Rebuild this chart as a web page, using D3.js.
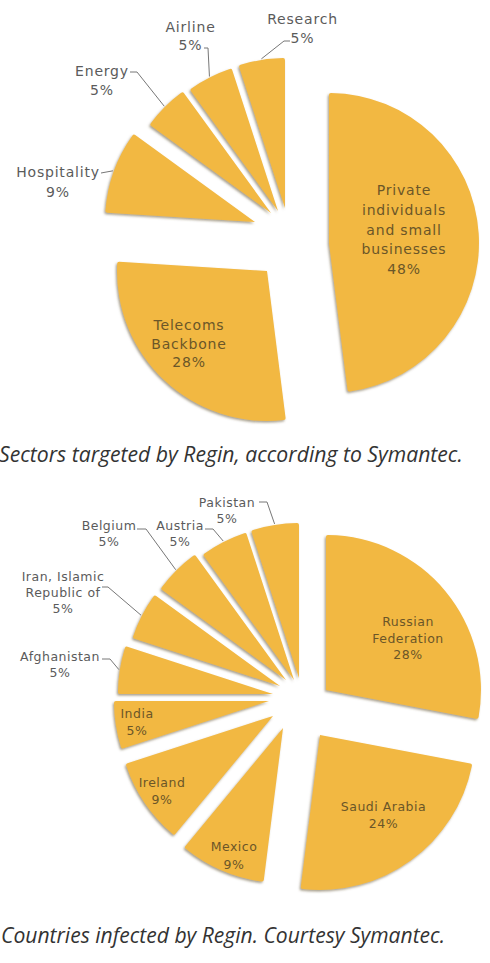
<!DOCTYPE html>
<html><head><meta charset="utf-8">
<script src="https://cdn.jsdelivr.net/npm/d3@7"></script>
<style>html,body{margin:0;padding:0;background:#fff;} svg{display:block}</style>
</head><body>
<script>
// ---------------- data ----------------
const sectorNames = ["Private individuals and small businesses", "Telecoms Backbone", "Hospitality", "Energy", "Airline", "Research"];
const sectorValues = [48, 28, 9, 5, 5, 5];
const sectorLabelLines = [["Private", "individuals", "and small", "businesses"], ["Telecoms", "Backbone"], ["Hospitality"], ["Energy"], ["Airline"], ["Research"]];

const countryNames = ["Russian Federation", "Saudi Arabia", "Mexico", "Ireland", "India", "Afghanistan", "Iran, Islamic Republic of", "Belgium", "Austria", "Pakistan"];
const countryValues = [28, 24, 9, 9, 5, 5, 5, 5, 5, 5];
const countryLabelLines = [["Russian", "Federation"], ["Saudi Arabia"], ["Mexico"], ["Ireland"], ["India"], ["Afghanistan"], ["Iran, Islamic", "Republic of"], ["Belgium"], ["Austria"], ["Pakistan"]];

const captions = ["Sectors targeted by Regin, according to Symantec.", "Countries infected by Regin. Courtesy Symantec."];

// ---------------- layout / style ----------------
const W = 490, H = 963;
const FILL = "#f2b843";
const charts = [
  {
    values: sectorValues, lines: sectorLabelLines, cx: 290, cy: 238, r: 150, font: 14, spacing: 0.8,
    // explode [distance px, turn deg relative to slice bisector]
    explode: [[39.3, 10.9], [40.2, -8.3], [38.5, 4.8], [31.4, 7.8], [29.5, 3], [30.4, -0.5]],
    labels: [
      {x: 404, y: 195, lh: 19.8, inside: true},
      {x: 189, y: 330, lh: 18.5, inside: true},
      {x: 58, y: 177, lh: 20, lead: [101, 173, 0]},
      {x: 102, y: 76, lh: 19, lead: [130, 72, 7]},
      {x: 190.5, y: 32, lh: 18, lead: [204, 48, 4]},
      {x: 302.5, y: 24, lh: 19, lead: [290, 41, -6]}
    ],
    caption: {x: -1, y: 462, w: 464}
  },
  {
    values: countryValues, lines: countryLabelLines, cx: 300, cy: 697, r: 155, font: 12.5, spacing: 0.5,
    explode: [[26.9, 24.5], [42.9, 8.2], [35.4, 5.3], [33, -0.9], [31.3, 1.6], [27.2, -2.7], [22.8, 1.8], [22, 5.5], [18, 7.6], [19, 6]],
    labels: [
      {x: 408, y: 626, lh: 16.7, inside: true},
      {x: 383.5, y: 811, lh: 17, inside: true},
      {x: 234, y: 851, lh: 18, inside: true},
      {x: 162, y: 787, lh: 17, inside: true},
      {x: 137, y: 718, lh: 17, inside: true},
      {x: 60, y: 661, lh: 16, lead: [102, 659, 8]},
      {x: 63, y: 581, lh: 16, lead: [102, 587, 6]},
      {x: 109, y: 530, lh: 16, lead: [137, 529, 9]},
      {x: 180, y: 530, lh: 16, lead: [205, 529, 8]},
      {x: 227, y: 507, lh: 15.5, lead: [259, 502, 8]}
    ],
    caption: {x: 1, y: 943, w: 444}
  }
];

const svg = d3.select("body").append("svg").attr("width", W).attr("height", H);
const defs = svg.append("defs");
const f = defs.append("filter").attr("id", "sh").attr("x", "-20%").attr("y", "-20%").attr("width", "140%").attr("height", "140%");
f.append("feDropShadow").attr("dx", -1.2).attr("dy", 1.6).attr("stdDeviation", 0.9)
  .attr("flood-color", "#6e6040").attr("flood-opacity", 0.6);

charts.forEach((c, ci) => {
  const arcs = d3.pie().sort(null).value(d => d)(c.values);
  const arcGen = d3.arc().innerRadius(0).outerRadius(c.r).cornerRadius(2);
  const g = svg.append("g");
  const apexes = arcs.map((a, i) => {
    const mid = (a.startAngle + a.endAngle) / 2;
    const ang = mid + c.explode[i][1] * Math.PI / 180;
    return [c.cx + c.explode[i][0] * Math.sin(ang), c.cy - c.explode[i][0] * Math.cos(ang), mid];
  });
  g.selectAll("path.slice").data(arcs).join("path")
    .attr("class", "slice")
    .attr("transform", (d, i) => `translate(${apexes[i][0]},${apexes[i][1]})`)
    .attr("d", arcGen)
    .attr("fill", FILL)
    .attr("filter", "url(#sh)");

  // labels
  c.labels.forEach((L, i) => {
    const lines = c.lines[i].concat([c.values[i] + "%"]);
    const t = g.append("text")
      .attr("text-anchor", "middle")
      .attr("font-family", "DejaVu Sans, sans-serif")
      .attr("font-size", c.font)
      .attr("letter-spacing", c.spacing)
      .attr("fill", L.inside ? "#6b5628" : "#5b5b5b");
    lines.forEach((ln, k) => {
      t.append("tspan").attr("x", L.x).attr("y", L.y + k * L.lh).text(ln);
    });
    if (L.lead) {
      const [sx, sy, el] = L.lead;
      const [ax, ay, mid] = apexes[i];
      const px = ax + (c.r + 1) * Math.sin(mid), py = ay - (c.r + 1) * Math.cos(mid);
      g.append("path")
        .attr("d", d3.line()([[sx, sy], [sx + el, sy], [px, py]]))
        .attr("fill", "none").attr("stroke", "#777").attr("stroke-width", 1);
    }
  });

  // caption
  const cap = svg.append("text")
    .attr("x", c.caption.x).attr("y", c.caption.y)
    .attr("font-family", "Open Sans, sans-serif")
    .attr("font-style", "italic")
    .attr("font-size", 17)
    .attr("fill", "#333")
    .text(captions[ci]);
  const len = cap.node().getComputedTextLength();
  if (len > 0) cap.attr("font-size", 17 * c.caption.w / len);
});
</script>
</body></html>
